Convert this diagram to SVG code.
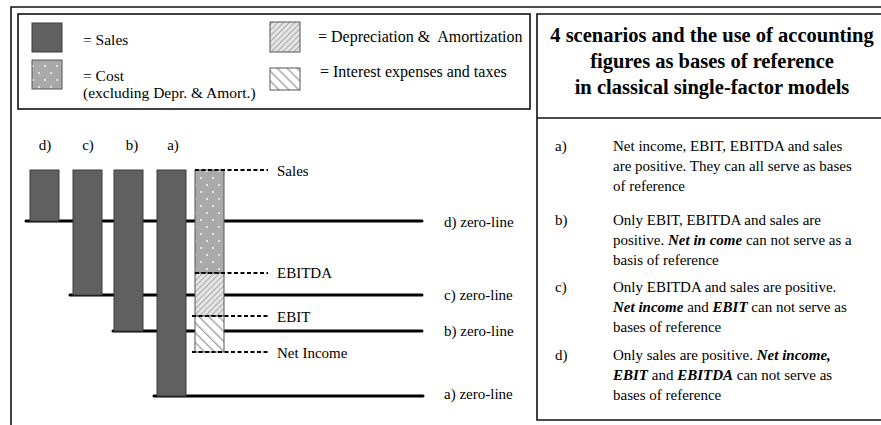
<svg xmlns="http://www.w3.org/2000/svg" width="881" height="425" viewBox="0 0 881 425">
  <style>
    text { font-family: "Liberation Serif", "DejaVu Serif", "Times New Roman", serif; fill: #000; }
    .leg { font-size: 16px; }
    .legl { font-size: 15.5px; }
    .lbl { font-size: 15px; }
    .hdr { font-size: 20.5px; font-weight: bold; }
    .body { font-size: 15px; }
    .frame { fill: none; stroke: #111; stroke-width: 1.6; }
    .bar { fill: #606060; stroke: #3c3c3c; stroke-width: 1; }
    .seg { stroke: #555; stroke-width: 1; }
    .zero { stroke: #000; stroke-width: 3; stroke-linecap: round; }
    .lead { stroke: #000; stroke-width: 2; stroke-dasharray: 4 2.5; }
    .bi { font-weight: bold; font-style: italic; }
  </style>
  <defs>
    <!-- cost: grey with white dots -->
    <pattern id="dots" width="12" height="14" patternUnits="userSpaceOnUse">
      <rect width="12" height="14" fill="#a9a9a9"/>
      <circle cx="3" cy="3" r="0.9" fill="#fff"/>
      <circle cx="9" cy="10" r="0.9" fill="#fff"/>
    </pattern>
    <!-- depreciation & amortization: fine forward hatch -->
    <pattern id="fine" width="4" height="4" patternUnits="userSpaceOnUse" patternTransform="rotate(45)">
      <rect width="4" height="4" fill="#e4e4e4"/>
      <line x1="0" y1="0" x2="0" y2="4" stroke="#9a9a9a" stroke-width="1.6"/>
    </pattern>
    <!-- interest & taxes: wide backward hatch -->
    <pattern id="wide" width="7" height="7" patternUnits="userSpaceOnUse" patternTransform="rotate(-45)">
      <rect width="7" height="7" fill="#fff"/>
      <line x1="0" y1="0" x2="0" y2="7" stroke="#a8a8a8" stroke-width="3"/>
    </pattern>
  </defs>

  <rect width="881" height="425" fill="#fff"/>

  <!-- outer frame -->
  <polyline class="frame" points="11,425 11,7 881,7"/>

  <!-- legend -->
  <g id="legend">
    <rect class="frame" x="18" y="14" width="512" height="95"/>
    <rect class="bar" x="32" y="23" width="30" height="29"/>
    <text class="legl" x="83" y="45">= Sales</text>
    <rect class="seg" x="32" y="60" width="30" height="29" fill="url(#dots)"/>
    <text class="legl" x="83" y="81">= Cost</text>
    <text class="legl" x="83" y="98">(excluding Depr. &amp; Amort.)</text>
    <rect class="seg" x="270" y="22" width="30" height="30" fill="url(#fine)"/>
    <text class="leg" x="318" y="42" xml:space="preserve">= Depreciation &amp;  Amortization</text>
    <rect class="seg" x="270" y="68" width="30" height="22" fill="url(#wide)"/>
    <text class="leg" x="320" y="77">= Interest expenses and taxes</text>
  </g>

  <!-- zero-lines -->
  <g id="connectors">
    <line class="zero" x1="26" y1="221" x2="422" y2="221"/>
    <line class="zero" x1="70" y1="295" x2="422" y2="295"/>
    <line class="zero" x1="113" y1="331" x2="422" y2="331"/>
    <line class="zero" x1="154" y1="396" x2="423" y2="396"/>
  </g>

  <!-- scenario bars -->
  <g id="bar-d">
    <text class="lbl" x="45" y="150" text-anchor="middle">d)</text>
    <rect class="bar" x="30" y="170" width="29" height="51"/>
  </g>
  <g id="bar-c">
    <text class="lbl" x="88" y="150" text-anchor="middle">c)</text>
    <rect class="bar" x="73" y="170" width="29" height="125"/>
  </g>
  <g id="bar-b">
    <text class="lbl" x="132" y="150" text-anchor="middle">b)</text>
    <rect class="bar" x="114" y="170" width="29" height="161"/>
  </g>
  <g id="bar-a">
    <text class="lbl" x="173" y="150" text-anchor="middle">a)</text>
    <rect class="bar" x="157" y="170" width="29" height="226"/>
  </g>

  <!-- breakdown of sales with leader lines -->
  <g id="breakdown">
    <rect class="seg" x="195" y="170" width="29" height="103" fill="url(#dots)"/>
    <rect class="seg" x="195" y="273" width="29" height="43" fill="url(#fine)"/>
    <rect class="seg" x="195" y="316" width="29" height="36" fill="url(#wide)"/>
    <line class="lead" x1="195" y1="170" x2="268" y2="170"/>
    <line class="lead" x1="195" y1="273" x2="268" y2="273"/>
    <line class="lead" x1="192" y1="316" x2="268" y2="316"/>
    <line class="lead" x1="192" y1="352" x2="268" y2="352"/>
    <text class="lbl" x="277" y="176">Sales</text>
    <text class="lbl" x="277" y="278">EBITDA</text>
    <text class="lbl" x="277" y="322">EBIT</text>
    <text class="lbl" x="277" y="358">Net Income</text>
  </g>

  <g id="zero-labels">
    <text class="lbl" x="444" y="227">d) zero-line</text>
    <text class="lbl" x="444" y="300">c) zero-line</text>
    <text class="lbl" x="444" y="336">b) zero-line</text>
    <text class="lbl" x="444" y="399">a) zero-line</text>
  </g>

  <!-- scenario description panel -->
  <g id="panel">
    <polyline class="frame" points="881,14 537,14 537,420 881,420"/>
    <line class="frame" x1="537" y1="118" x2="881" y2="118"/>
    <text class="hdr" x="712" y="42" text-anchor="middle">4 scenarios and the use of accounting</text>
    <text class="hdr" x="712" y="68" text-anchor="middle">figures as bases of reference</text>
    <text class="hdr" x="712" y="94" text-anchor="middle">in classical single-factor models</text>

    <text class="body" x="555" y="151">a)</text>
    <text class="body" x="613" y="151">Net income, EBIT, EBITDA and sales</text>
    <text class="body" x="613" y="171">are positive. They can all serve as bases</text>
    <text class="body" x="613" y="191">of reference</text>

    <text class="body" x="555" y="225">b)</text>
    <text class="body" x="613" y="225">Only EBIT, EBITDA and sales are</text>
    <text class="body" x="613" y="245">positive. <tspan class="bi">Net in come</tspan> can not serve as a</text>
    <text class="body" x="613" y="265">basis of reference</text>

    <text class="body" x="555" y="292">c)</text>
    <text class="body" x="613" y="292">Only EBITDA and sales are positive.</text>
    <text class="body" x="613" y="312"><tspan class="bi">Net income</tspan> and <tspan class="bi">EBIT</tspan> can not serve as</text>
    <text class="body" x="613" y="332">bases of reference</text>

    <text class="body" x="555" y="360">d)</text>
    <text class="body" x="613" y="360">Only sales are positive. <tspan class="bi">Net income,</tspan></text>
    <text class="body" x="613" y="380"><tspan class="bi">EBIT</tspan> and <tspan class="bi">EBITDA</tspan> can not serve as</text>
    <text class="body" x="613" y="400">bases of reference</text>
  </g>
</svg>
